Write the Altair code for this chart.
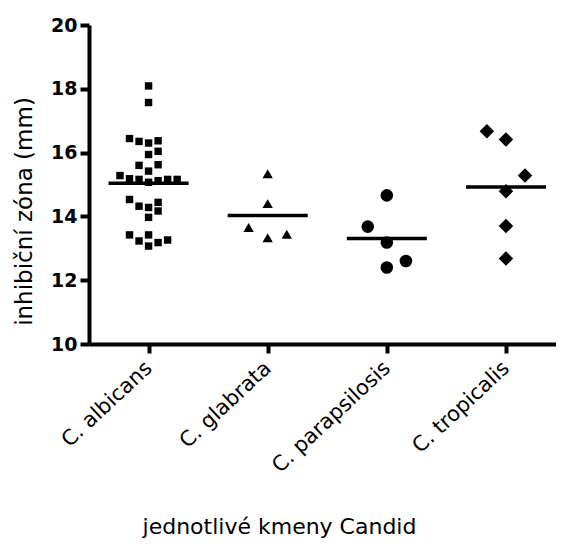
import altair as alt
import pandas as pd

categories = ["C. albicans", "C. glabrata", "C. parapsilosis", "C. tropicalis"]
shapes = ["square", "triangle-up", "circle", "diamond"]
sizes = [55, 210, 190, 290]

albicans = [18.09, 17.57, 16.44, 16.35, 16.30, 16.37, 15.94, 16.04, 15.60, 15.62,
            15.42, 15.28, 15.18, 15.16, 15.07, 15.12, 15.16, 15.16, 14.53, 14.32,
            14.28, 14.44, 14.17, 13.97, 13.42, 13.23, 13.42, 13.07, 13.18, 13.26]
albicans_slot = [0, 0, -2, -1, 0, 1, 0, 1, -1, 1,
                 0, -3, -2, -1, 0, 1, 2, 3, -2, -1,
                 0, 1, 1, 0, -2, -1, 0, 0, 1, 2]
glabrata = [15.34, 14.40, 13.65, 13.33, 13.44]
glabrata_slot = [0, 0, -2, 0, 2]
parapsilosis = [14.66, 13.68, 13.18, 12.40, 12.60]
parapsilosis_slot = [0, -2, 0, 0, 2]
tropicalis = [16.67, 16.41, 15.28, 14.79, 13.70, 12.68]
tropicalis_slot = [-2, 0, 2, 0, 0, 0]

y_ticks = [10, 12, 14, 16, 18, 20]

rows = []
for i, (vals, slots) in enumerate([(albicans, albicans_slot), (glabrata, glabrata_slot),
                                   (parapsilosis, parapsilosis_slot), (tropicalis, tropicalis_slot)]):
    for v, s in zip(vals, slots):
        rows.append({"kmen": categories[i], "idx": i + 1, "slot": s, "zona": v})
df = pd.DataFrame(rows)

label_expr = " : ".join(f"datum.value == {i+1} ? '{c}'" for i, c in enumerate(categories[:-1])) + f" : '{categories[-1]}'"

FONT = "DejaVu Sans"

xscale = alt.Scale(domain=[0.5, 4.42], nice=False, zero=False)
yscale = alt.Scale(domain=[10, 20], nice=False, zero=False)

x_axis = alt.Axis(
    values=[1, 2, 3, 4], labelExpr=label_expr,
    title="jednotlivé kmeny Candid", titleFont=FONT, titleFontSize=22, titleFontWeight="normal",
    titleColor="black", titleX=190, titleY=189, titleAlign="center", titleBaseline="alphabetic",
    labelFont=FONT, labelFontSize=21, labelColor="black", labelAngle=-43, labelAlign="right",
    labelBaseline="middle", labelPadding=12, tickSize=9, tickWidth=4, tickColor="black",
    domainColor="black", domainWidth=4, grid=False, labelOverlap=False,
)
y_axis = alt.Axis(
    values=y_ticks, title="inhibiční zóna (mm)", titleFont=FONT, titleFontSize=23,
    titleFontWeight="normal", titleColor="black", titleAngle=-90, titleX=-65, titleY=186,
    titleAlign="center", titleBaseline="middle",
    labelFont=FONT, labelFontSize=19, labelFontWeight="bold", labelColor="black",
    labelPadding=3, tickSize=9, tickWidth=4, tickColor="black",
    domainColor="black", domainWidth=4, grid=False,
)

base = alt.Chart(df)

points = base.transform_calculate(
    xpos="datum.idx + datum.slot * 0.08"
).mark_point(filled=True, opacity=1, color="black", strokeWidth=0).encode(
    x=alt.X("xpos:Q", scale=xscale, axis=x_axis),
    y=alt.Y("zona:Q", scale=yscale, axis=y_axis),
    shape=alt.Shape("kmen:N", scale=alt.Scale(domain=categories, range=shapes), legend=None),
    size=alt.Size("kmen:N", scale=alt.Scale(domain=categories, range=sizes), legend=None),
)

means = base.transform_aggregate(
    mean_zona="mean(zona)", groupby=["kmen", "idx"]
).transform_calculate(
    x1="datum.idx - 0.336", x2="datum.idx + 0.336"
).mark_rule(color="black", strokeWidth=3.5).encode(
    x=alt.X("x1:Q", scale=xscale),
    x2="x2:Q",
    y=alt.Y("mean_zona:Q", scale=yscale),
)

chart = alt.layer(points, means).properties(
    width=467, height=319,
    background="white",
    autosize=alt.AutoSizeParams(type="none"),
    padding={"left": 81, "top": 17, "right": 0, "bottom": 195},
).configure_view(stroke=None).configure_axis(grid=False)

chart.save("out.html", embed_options={"renderer": "svg", "actions": False})
